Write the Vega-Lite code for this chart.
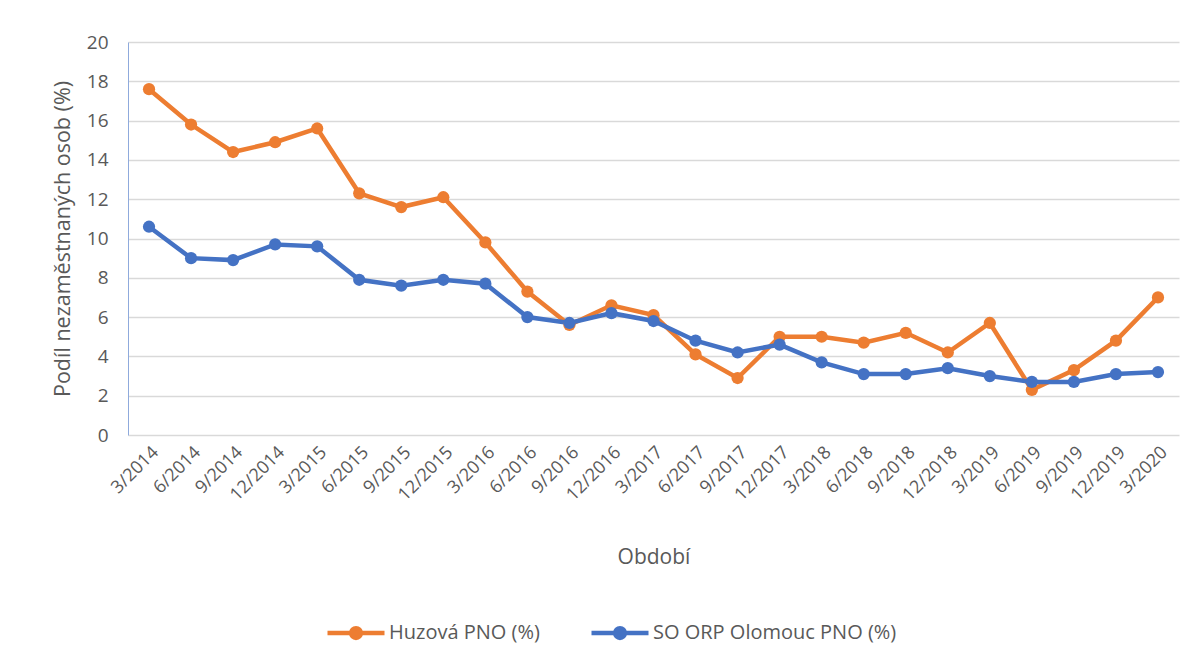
{
  "$schema": "https://vega.github.io/schema/vega-lite/v6.json",
  "width": 1051,
  "height": 393,
  "padding": {"left": 52, "top": 33, "right": 20, "bottom": 5},
  "background": "white",
  "config": {
    "font": "Open Sans",
    "view": {"stroke": null},
    "axis": {"labelColor": "#595959", "titleColor": "#595959", "titleFontWeight": "normal"}
  },
  "datasets": {
    "pno": [
      {"obdobi": "3/2014", "serie": "Huzová PNO (%)", "hodnota": 17.6},
      {"obdobi": "6/2014", "serie": "Huzová PNO (%)", "hodnota": 15.8},
      {"obdobi": "9/2014", "serie": "Huzová PNO (%)", "hodnota": 14.4},
      {"obdobi": "12/2014", "serie": "Huzová PNO (%)", "hodnota": 14.9},
      {"obdobi": "3/2015", "serie": "Huzová PNO (%)", "hodnota": 15.6},
      {"obdobi": "6/2015", "serie": "Huzová PNO (%)", "hodnota": 12.3},
      {"obdobi": "9/2015", "serie": "Huzová PNO (%)", "hodnota": 11.6},
      {"obdobi": "12/2015", "serie": "Huzová PNO (%)", "hodnota": 12.1},
      {"obdobi": "3/2016", "serie": "Huzová PNO (%)", "hodnota": 9.8},
      {"obdobi": "6/2016", "serie": "Huzová PNO (%)", "hodnota": 7.3},
      {"obdobi": "9/2016", "serie": "Huzová PNO (%)", "hodnota": 5.6},
      {"obdobi": "12/2016", "serie": "Huzová PNO (%)", "hodnota": 6.6},
      {"obdobi": "3/2017", "serie": "Huzová PNO (%)", "hodnota": 6.1},
      {"obdobi": "6/2017", "serie": "Huzová PNO (%)", "hodnota": 4.1},
      {"obdobi": "9/2017", "serie": "Huzová PNO (%)", "hodnota": 2.9},
      {"obdobi": "12/2017", "serie": "Huzová PNO (%)", "hodnota": 5.0},
      {"obdobi": "3/2018", "serie": "Huzová PNO (%)", "hodnota": 5.0},
      {"obdobi": "6/2018", "serie": "Huzová PNO (%)", "hodnota": 4.7},
      {"obdobi": "9/2018", "serie": "Huzová PNO (%)", "hodnota": 5.2},
      {"obdobi": "12/2018", "serie": "Huzová PNO (%)", "hodnota": 4.2},
      {"obdobi": "3/2019", "serie": "Huzová PNO (%)", "hodnota": 5.7},
      {"obdobi": "6/2019", "serie": "Huzová PNO (%)", "hodnota": 2.3},
      {"obdobi": "9/2019", "serie": "Huzová PNO (%)", "hodnota": 3.3},
      {"obdobi": "12/2019", "serie": "Huzová PNO (%)", "hodnota": 4.8},
      {"obdobi": "3/2020", "serie": "Huzová PNO (%)", "hodnota": 7.0},
      {"obdobi": "3/2014", "serie": "SO ORP Olomouc PNO (%)", "hodnota": 10.6},
      {"obdobi": "6/2014", "serie": "SO ORP Olomouc PNO (%)", "hodnota": 9.0},
      {"obdobi": "9/2014", "serie": "SO ORP Olomouc PNO (%)", "hodnota": 8.9},
      {"obdobi": "12/2014", "serie": "SO ORP Olomouc PNO (%)", "hodnota": 9.7},
      {"obdobi": "3/2015", "serie": "SO ORP Olomouc PNO (%)", "hodnota": 9.6},
      {"obdobi": "6/2015", "serie": "SO ORP Olomouc PNO (%)", "hodnota": 7.9},
      {"obdobi": "9/2015", "serie": "SO ORP Olomouc PNO (%)", "hodnota": 7.6},
      {"obdobi": "12/2015", "serie": "SO ORP Olomouc PNO (%)", "hodnota": 7.9},
      {"obdobi": "3/2016", "serie": "SO ORP Olomouc PNO (%)", "hodnota": 7.7},
      {"obdobi": "6/2016", "serie": "SO ORP Olomouc PNO (%)", "hodnota": 6.0},
      {"obdobi": "9/2016", "serie": "SO ORP Olomouc PNO (%)", "hodnota": 5.7},
      {"obdobi": "12/2016", "serie": "SO ORP Olomouc PNO (%)", "hodnota": 6.2},
      {"obdobi": "3/2017", "serie": "SO ORP Olomouc PNO (%)", "hodnota": 5.8},
      {"obdobi": "6/2017", "serie": "SO ORP Olomouc PNO (%)", "hodnota": 4.8},
      {"obdobi": "9/2017", "serie": "SO ORP Olomouc PNO (%)", "hodnota": 4.2},
      {"obdobi": "12/2017", "serie": "SO ORP Olomouc PNO (%)", "hodnota": 4.6},
      {"obdobi": "3/2018", "serie": "SO ORP Olomouc PNO (%)", "hodnota": 3.7},
      {"obdobi": "6/2018", "serie": "SO ORP Olomouc PNO (%)", "hodnota": 3.1},
      {"obdobi": "9/2018", "serie": "SO ORP Olomouc PNO (%)", "hodnota": 3.1},
      {"obdobi": "12/2018", "serie": "SO ORP Olomouc PNO (%)", "hodnota": 3.4},
      {"obdobi": "3/2019", "serie": "SO ORP Olomouc PNO (%)", "hodnota": 3.0},
      {"obdobi": "6/2019", "serie": "SO ORP Olomouc PNO (%)", "hodnota": 2.7},
      {"obdobi": "9/2019", "serie": "SO ORP Olomouc PNO (%)", "hodnota": 2.7},
      {"obdobi": "12/2019", "serie": "SO ORP Olomouc PNO (%)", "hodnota": 3.1},
      {"obdobi": "3/2020", "serie": "SO ORP Olomouc PNO (%)", "hodnota": 3.2}
    ]
  },
  "data": {"name": "pno"},
  "encoding": {
    "x": {
      "field": "obdobi",
      "type": "ordinal",
      "sort": null,
      "scale": {"paddingInner": 0, "paddingOuter": 0},
      "axis": {
        "title": "Období",
        "labelAngle": -45,
        "labelFontSize": 18,
        "labelPadding": 8,
        "ticks": false,
        "domain": false,
        "titleFontSize": 21,
        "titlePadding": 42
      }
    },
    "y": {
      "field": "hodnota",
      "type": "quantitative",
      "scale": {"domain": [0, 20]},
      "axis": {
        "title": "Podíl nezaměstnaných osob (%)",
        "values": [0, 2, 4, 6, 8, 10, 12, 14, 16, 18, 20],
        "labelFontSize": 19,
        "labelPadding": 20,
        "ticks": false,
        "domain": true,
        "domainColor": "#8FAADC",
        "domainWidth": 1,
        "gridColor": "#D9D9D9",
        "gridWidth": 1.6,
        "titleFontSize": 21.5,
        "titlePadding": 12
      }
    },
    "color": {
      "field": "serie",
      "type": "nominal",
      "scale": {"domain": ["Huzová PNO (%)", "SO ORP Olomouc PNO (%)"], "range": ["#ED7D31", "#4472C4"]},
      "legend": {
        "title": null,
        "orient": "none",
        "direction": "horizontal",
        "legendX": 197,
        "legendY": 560,
        "labelFontSize": 20,
        "labelLimit": 600,
        "labelColor": "#595959",
        "labelOffset": 2,
        "columnPadding": 42,
        "symbolType": "M -1 0 L 1 0 M -0.17 0 A 0.17 0.17 0 1 1 0.17 0 A 0.17 0.17 0 1 1 -0.17 0 Z",
        "symbolSize": 3249,
        "symbolStrokeWidth": 4.5,
        "encode": {"symbols": {"update": {"fill": {"scale": "color", "field": "value"}, "stroke": {"scale": "color", "field": "value"}, "opacity": {"value": 1}}}}
      }
    }
  },
  "layer": [
    {"mark": {"type": "line", "strokeWidth": 4.5}},
    {"mark": {"type": "point", "filled": true, "size": 150, "opacity": 1}}
  ]
}
